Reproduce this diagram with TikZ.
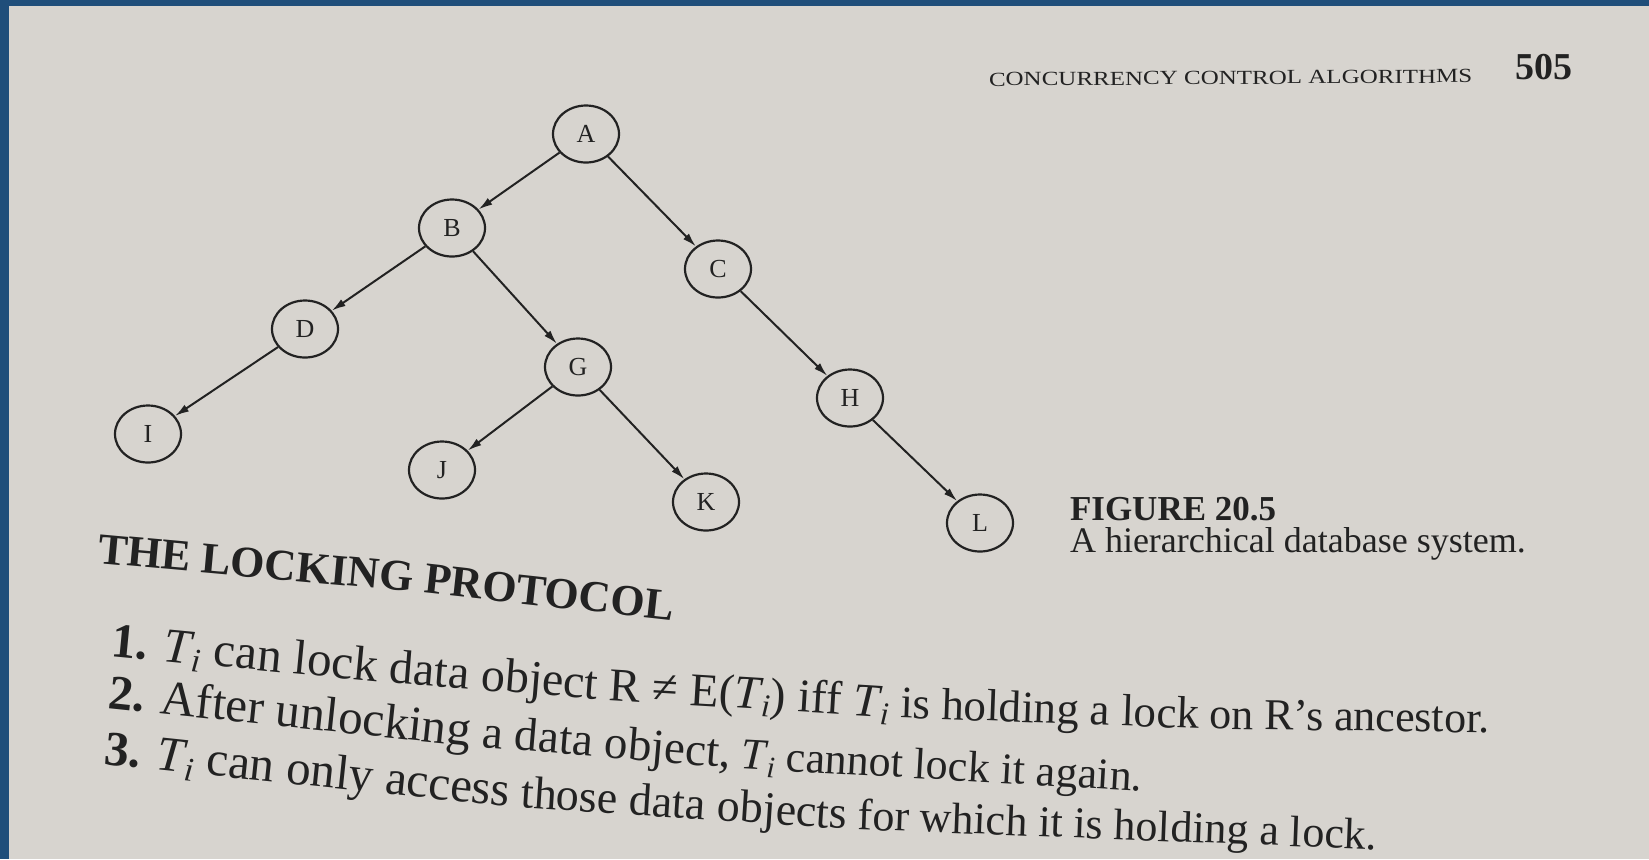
\documentclass[tikz,border=0pt]{standalone}
\usepackage{fontspec}
\setmainfont{Liberation Serif}
\usepackage{graphicx}
\usetikzlibrary{shapes.geometric,arrows.meta}
\definecolor{page}{HTML}{D7D4CF}
\definecolor{frame}{HTML}{1F4E7A}
\definecolor{ink}{HTML}{222222}
\newcommand\Ti{\textit{T}\kern-0.03em\raisebox{-0.35ex}{\scalebox{0.68}{\textit{i}}}}
\newcommand\fs[1]{\fontsize{#1}{#1}\selectfont}
\begin{document}
\begin{tikzpicture}[x=0.5pt,y=-0.5pt,
  treenode/.style={ellipse,draw=ink,line width=1.1pt,minimum width=33pt,minimum height=28.5pt,inner sep=0pt,font=\fs{13},text=ink},
  edge/.style={draw=ink,line width=1pt,-{Latex[length=7pt,width=4pt]}},
  chunk/.style={inner sep=0pt,outer sep=0pt,anchor=base west,text=ink},
]
\useasboundingbox (0,0) rectangle (1649,859);
\fill[page] (0,0) rectangle (1649,859);
\fill[frame] (0,0) rectangle (1649,6);
\fill[frame] (0,0) rectangle (9,859);

% header
\node[chunk,rotate=0.4,font=\fs{10}] (hdr) at (989,86) {\scalebox{1.25}[1]{CONCURRENCY CONTROL ALGORITHMS}};
\node[chunk,font=\fs{19}\bfseries] (pg) at (1515,79) {505};

% tree
\node[treenode] (A) at (586,134) {A};
\node[treenode] (B) at (452,228) {B};
\node[treenode] (C) at (718,269) {C};
\node[treenode] (D) at (305,329) {D};
\node[treenode] (G) at (578,367) {G};
\node[treenode] (H) at (850,398) {H};
\node[treenode] (I) at (148,434) {I};
\node[treenode] (J) at (442,470) {J};
\node[treenode] (K) at (706,502) {K};
\node[treenode] (L) at (980,523) {L};
\draw[edge] (A) -- (B);
\draw[edge] (A) -- (C);
\draw[edge] (B) -- (D);
\draw[edge] (B) -- (G);
\draw[edge] (C) -- (H);
\draw[edge] (D) -- (I);
\draw[edge] (G) -- (J);
\draw[edge] (G) -- (K);
\draw[edge] (H) -- (L);

% caption
\node[chunk,font=\fs{17.5}\bfseries] (fig) at (1070,520) {FIGURE 20.5};
\node[chunk,font=\fs{18}] (cap) at (1070,552) {A hierarchical database system.};

% heading
\node[chunk,rotate=-5.2,font=\fs{22}\bfseries] (h1) at (97,563) {THE LOCKING};
\node[chunk,rotate=-6.3,font=\fs{22}\bfseries] (h2) at (h1.base east) {\ PROTOCOL};

% line 1
\node[chunk,rotate=-5.5,font=\fs{24.5}] (l1a) at (110,656) {\textbf{1.} \Ti\ can lock};
\node[chunk,rotate=-4.6,font=\fs{24}] (l1b) at (l1a.base east) {\ data object};
\node[chunk,rotate=-3.5,font=\fs{23.5}] (l1c) at (l1b.base east) {\ R ≠ E(\Ti) iff \Ti};
\node[chunk,rotate=-2.1,font=\fs{22.5}] (l1d) at (l1c.base east) {\ is holding a lock};
\node[chunk,rotate=-0.8,font=\fs{22}] (l1e) at (l1d.base east) {\ on R's ancestor.};

% line 2
\node[chunk,rotate=-6,font=\fs{24.5}] (l2a) at (107,708) {\textbf{2.} After unlocking};
\node[chunk,rotate=-4.8,font=\fs{23.5}] (l2b) at (l2a.base east) {\ a data object,};
\node[chunk,rotate=-3.2,font=\fs{22}] (l2c) at (l2b.base east) {\ \Ti\ cannot lock it again.};

% line 3
\node[chunk,rotate=-6,font=\fs{24.5}] (l3a) at (103,764) {\textbf{3.} \Ti\ can only access};
\node[chunk,rotate=-3.8,font=\fs{23}] (l3b) at (l3a.base east) {\ those data objects};
\node[chunk,rotate=-2.2,font=\fs{22}] (l3c) at (l3b.base east) {\ for which it is holding a lock.};
\end{tikzpicture}
\end{document}
